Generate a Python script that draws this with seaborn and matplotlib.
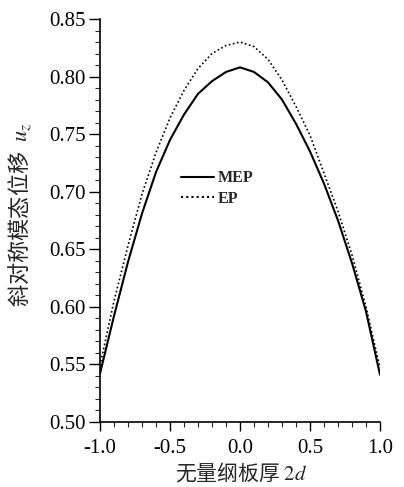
import numpy as np
import pandas as pd
import matplotlib
matplotlib.use("Agg")
import matplotlib.pyplot as plt
from matplotlib.ticker import MultipleLocator, FormatStrFormatter
import seaborn as sns

x_vals = [-1.0, -0.9, -0.8, -0.7, -0.6, -0.5, -0.4, -0.3, -0.2, -0.1, 0.0,
          0.1, 0.2, 0.3, 0.4, 0.5, 0.6, 0.7, 0.8, 0.9, 1.0]
mep = [0.542, 0.592, 0.639, 0.681, 0.717, 0.745, 0.767, 0.785, 0.796, 0.804, 0.808,
       0.804, 0.795, 0.780, 0.759, 0.735, 0.707, 0.675, 0.638, 0.596, 0.541]
ep = [0.549, 0.605, 0.653, 0.698, 0.734, 0.764, 0.788, 0.807, 0.820, 0.827, 0.830,
      0.826, 0.815, 0.797, 0.774, 0.749, 0.716, 0.683, 0.645, 0.600, 0.547]
series_names = ["MEP", "EP"]

df = pd.DataFrame({
    "x": x_vals * 2,
    "y": mep + ep,
    "series": [series_names[0]] * len(x_vals) + [series_names[1]] * len(x_vals),
})

sns.set_style("ticks")
plt.rcParams["font.family"] = ["Liberation Serif", "Noto Sans CJK SC", "DejaVu Sans"]
plt.rcParams["mathtext.fontset"] = "stix"

fig = plt.figure(figsize=(4.04, 4.87), dpi=100)
ax = fig.add_axes([0.2475, 0.1335, 0.6931, 0.8275])

sns.lineplot(data=df, x="x", y="y", style="series", hue="series",
             palette=["black", "black"], dashes={"MEP": "", "EP": (1, 1.5)},
             estimator=None, sort=False, ax=ax, linewidth=1.5)
ax.lines[1].set_linewidth(1.2)

ax.set_xlim(-1.0, 1.0)
ax.set_ylim(0.50, 0.85)
ax.xaxis.set_major_locator(MultipleLocator(0.5))
ax.xaxis.set_minor_locator(MultipleLocator(0.1))
ax.yaxis.set_major_locator(MultipleLocator(0.05))
ax.yaxis.set_minor_locator(MultipleLocator(0.01))
ax.xaxis.set_major_formatter(FormatStrFormatter("%.1f"))
ax.yaxis.set_major_formatter(FormatStrFormatter("%.2f"))
ax.tick_params(axis="both", which="major", direction="out", width=1.0,
               labelsize=15, colors="black")
ax.tick_params(axis="y", which="major", length=8, pad=2)
ax.tick_params(axis="x", which="major", length=6.5, pad=6)
ax.tick_params(axis="both", which="minor", direction="out", length=3.5, width=0.8)
for s in ["top", "right"]:
    ax.spines[s].set_visible(False)
for s in ["left", "bottom"]:
    ax.spines[s].set_linewidth(1.2)
    ax.spines[s].set_color("black")

ax.set_xlabel("无量纲板厚 $2d$", fontsize=15, family=["Noto Sans CJK SC", "DejaVu Sans"])
ax.set_ylabel("斜对称模态位移  $u_z$", fontsize=16, family=["Noto Sans CJK SC", "DejaVu Sans"])
ax.xaxis.set_label_coords(0.504, -0.095)
ax.yaxis.set_label_coords(-0.235, 0.514)

leg = ax.legend(loc="upper left", bbox_to_anchor=(0.288, 0.625), frameon=False,
                fontsize=11.5, handlelength=2.1, handletextpad=0.25, labelspacing=0.3,
                borderaxespad=0, borderpad=0)
for t in leg.get_texts():
    t.set_fontweight("bold")

fig.savefig("out.png", dpi=100)
